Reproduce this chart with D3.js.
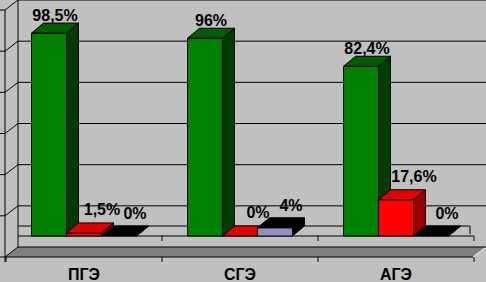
<!DOCTYPE html>
<html>
<head>
<meta charset="utf-8">
<script src="https://cdn.jsdelivr.net/npm/d3@7"></script>
<style>
body { margin: 0; background: #c0c0c0; }
text { font-family: "Liberation Sans", Arial, sans-serif; font-weight: bold; font-size: 16px; }
</style>
</head>
<body>
<div id="chart"></div>
<script>
var categories = ["ПГЭ", "СГЭ", "АГЭ"];
var series1 = [98.5, 96, 82.4];
var series2 = [1.5, 0, 17.6];
var series3 = [0, 4, 0];

function init(){

	var w = 486;
	var h = 282;
	//depth of the 3d effect
	var dx = 12;
	var dy = 10;

	var series = [series1, series2, series3];
	//front, top, side colours for each series
	var colors = [
		["#008000", "#005c00", "#003c00"],
		["#ff0000", "#e00000", "#9a0000"],
		["#9090c4", "#000000", "#000000"]
	];
	//label shift from the bar top, per series
	var labelDx = [6, 18, 16];
	var labelDy = [-12, -18, -17];

	var svg = d3.select("#chart")
				.append("svg")
				.attr("width", w)
				.attr("height", h);

	var x0 = d3.scaleBand().domain(categories).range([6, 474]);
	var x1 = d3.scaleBand().domain([0, 1, 2])
				.range([0, x0.bandwidth()])
				.paddingInner(0)
				.paddingOuter(0.73);
	var yWall = d3.scaleLinear().domain([0, 120]).range([247, 0]);
	var yBar = d3.scaleLinear().domain([0, 100]).range([236, 30]);

	svg.append("rect").attr("width", w).attr("height", h).attr("fill", "#c0c0c0");

	//floor slab
	svg.append("polygon")
		.attr("points", [[18, yWall(0)], [w, yWall(0)], [w - 13, yWall(0) + 10], [5, yWall(0) + 10]].join(" "))
		.attr("fill", "#808080");
	svg.append("line").attr("x1", w - 13).attr("y1", yWall(0) + 10).attr("x2", w).attr("y2", yWall(0))
		.attr("stroke", "#ffffff");

	//gridlines on back wall and side wall
	var ticks = yWall.ticks(6);
	ticks.forEach(function(v){
		var y = yWall(v);
		svg.append("line").attr("x1", 18).attr("x2", w).attr("y1", y).attr("y2", y).attr("stroke", "#000");
		svg.append("line").attr("x1", 5).attr("y1", y + 10).attr("x2", 18).attr("y2", y).attr("stroke", "#000");
		svg.append("line").attr("x1", 0).attr("y1", y + 10).attr("x2", 5).attr("y2", y + 10).attr("stroke", "#000");
	});
	svg.append("line").attr("x1", 5).attr("x2", 5).attr("y1", yWall(120) + 10).attr("y2", yWall(0) + 15).attr("stroke", "#000");
	svg.append("line").attr("x1", 18).attr("x2", 18).attr("y1", 0).attr("y2", yWall(0)).attr("stroke", "#000");
	svg.append("line").attr("x1", 5).attr("x2", w - 13).attr("y1", yWall(0) + 10).attr("y2", yWall(0) + 10).attr("stroke", "#000");

	//base plane that the bars stand on
	svg.append("line").attr("x1", 18).attr("x2", 470).attr("y1", yBar(0) - dy).attr("y2", yBar(0) - dy).attr("stroke", "#000");
	svg.append("line").attr("x1", 470).attr("x2", 470).attr("y1", yBar(0) - dy).attr("y2", yBar(0) - 2).attr("stroke", "#000");
	svg.append("line").attr("x1", 18).attr("x2", 474).attr("y1", yBar(0)).attr("y2", yBar(0)).attr("stroke", "#000");

	//category ticks
	var edges = categories.map(function(c){ return x0(c); }).concat([x0.range()[1]]);
	edges.forEach(function(x, i){
		if (i > 0) {
			svg.append("line").attr("x1", x).attr("x2", x).attr("y1", yBar(0)).attr("y2", yBar(0) + 5).attr("stroke", "#000");
		}
		svg.append("line").attr("x1", x).attr("x2", x).attr("y1", yWall(0) + 10).attr("y2", yWall(0) + 15).attr("stroke", "#000");
	});

	//bars
	var bw = x1.bandwidth();
	categories.forEach(function(c, i){
		series.forEach(function(s, j){
			var v = s[i];
			var x = x0(c) + x1(j);
			var yt = yBar(v);
			var yb = yBar(0);
			var g = svg.append("g").attr("stroke", "#000").attr("stroke-linejoin", "round");
			g.append("polygon")
				.attr("points", [[x + bw, yt], [x + bw + dx, yt - dy], [x + bw + dx, yb - dy], [x + bw, yb]].join(" "))
				.attr("fill", colors[j][2]);
			if (yb - yt > 0) {
				g.append("rect").attr("x", x).attr("y", yt).attr("width", bw).attr("height", yb - yt)
					.attr("fill", colors[j][0]);
			}
			g.append("polygon")
				.attr("points", [[x, yt], [x + dx, yt - dy], [x + bw + dx, yt - dy], [x + bw, yt]].join(" "))
				.attr("fill", colors[j][1]);
		});
	});

	//value labels
	categories.forEach(function(c, i){
		series.forEach(function(s, j){
			var v = s[i];
			svg.append("text")
				.attr("x", x0(c) + x1(j) + bw / 2 + labelDx[j])
				.attr("y", yBar(v) + labelDy[j])
				.attr("text-anchor", "middle")
				.text(String(v).replace(".", ",") + "%");
		});
	});

	//category labels
	svg.selectAll("text.cat")
		.data(categories)
		.enter()
		.append("text")
		.attr("class", "cat")
		.attr("x", function(d){ return x0(d) + x0.bandwidth() / 2; })
		.attr("y", 280)
		.attr("text-anchor", "middle")
		.text(function(d){ return d; });
}

window.onload = init;
</script>
</body>
</html>
